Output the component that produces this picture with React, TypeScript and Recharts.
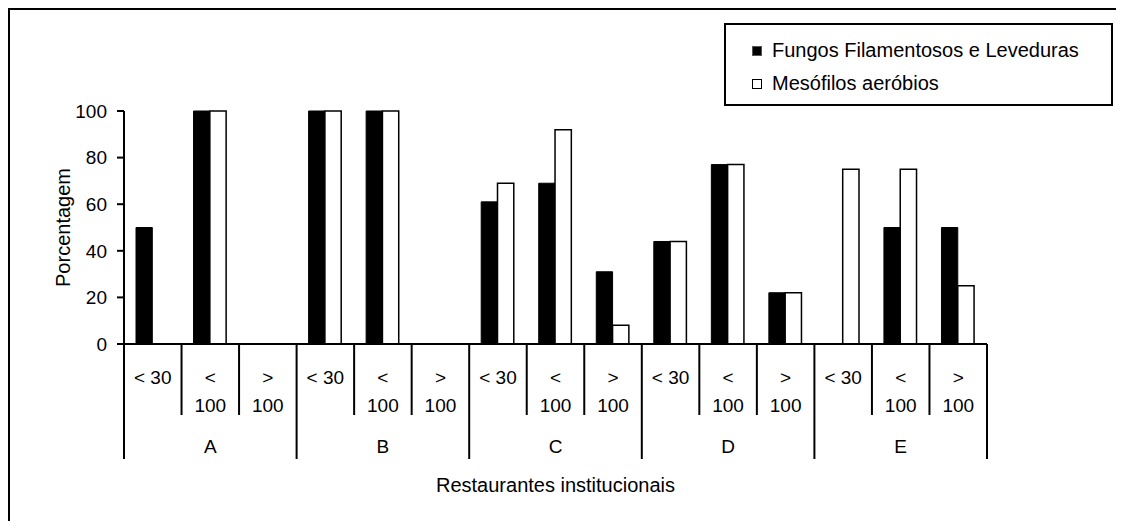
import React from 'react'
import { BarChart, Bar, XAxis, YAxis } from 'recharts'

// restaurant groups and contamination ranges (x axis, two levels)
const groups = ['A', 'B', 'C', 'D', 'E']
const ranges = ['< 30', '< 100', '> 100']

// percentages, one per group/range pair
const fungos = [50, 100, 0, 100, 100, 0, 61, 69, 31, 44, 77, 22, 0, 50, 50]
const mesofilos = [0, 100, 0, 100, 100, 0, 69, 92, 8, 44, 77, 22, 75, 75, 25]

const yTicks = [0, 20, 40, 60, 80, 100]

const data = groups.flatMap((g, gi) =>
  ranges.map((r, ri) => ({
    id: g + r,
    group: g,
    range: r,
    fungos: fungos[gi * 3 + ri],
    mesofilos: mesofilos[gi * 3 + ri],
  }))
)

const FONT = '"Liberation Sans", Arial, Helvetica, sans-serif'
const W = 1109
const H = 511
const LEFT = 114
const RIGHT = 132
const TOP = 101
const BAND = (W - LEFT - RIGHT) / data.length

const CategoryTick = (props: any) => {
  const { x, y, index } = props
  const row = data[index]
  if (!row) return null
  const left = x - BAND / 2
  const right = x + BAND / 2
  const groupStart = index % 3 === 0
  const lines = row.range.length > 4 ? row.range.split(' ') : [row.range]
  return (
    <g>
      <line x1={left} y1={y} x2={left} y2={y + (groupStart ? 115 : 71)} stroke="#000" strokeWidth={2} />
      {index === data.length - 1 && (
        <line x1={right} y1={y} x2={right} y2={y + 115} stroke="#000" strokeWidth={2} />
      )}
      <text x={x} y={y + 40} textAnchor="middle" fontSize={19} fill="#000" fontFamily={FONT}>
        {lines.map((l, k) => (
          <tspan key={k} x={x} dy={k === 0 ? 0 : 28}>
            {l}
          </tspan>
        ))}
      </text>
      {index % 3 === 1 && (
        <text x={x} y={y + 109} textAnchor="middle" fontSize={19} fill="#000" fontFamily={FONT}>
          {row.group}
        </text>
      )}
    </g>
  )
}

const XTitle = (p: any) => {
  const vb = p.viewBox
  return (
    <text x={vb.x + vb.width / 2} y={vb.y + 148} textAnchor="middle" fontSize={20} fill="#000" fontFamily={FONT}>
      Restaurantes institucionais
    </text>
  )
}

const YTitle = (p: any) => {
  const vb = p.viewBox
  const cy = vb.y + vb.height / 2
  return (
    <text x={60} y={cy} transform={`rotate(-90, 60, ${cy})`} textAnchor="middle" fontSize={20} fill="#000" fontFamily={FONT}>
      Porcentagem
    </text>
  )
}

const legendItems = [
  { label: 'Fungos Filamentosos e Leveduras', fill: '#000', border: '#555' },
  { label: 'Mesófilos aeróbios', fill: '#fff', border: '#000' },
]

export default function App() {
  return (
    <div
      style={{
        position: 'relative',
        width: W,
        height: H,
        borderTop: '2px solid #000',
        borderLeft: '2px solid #000',
        borderRight: '2px solid #000',
        fontFamily: FONT,
        background: '#fff',
      }}
    >
      <BarChart
        width={W}
        height={H}
        data={data}
        margin={{ top: TOP, right: RIGHT, bottom: 0, left: 0 }}
        barGap={0}
      >
        <YAxis
          width={LEFT}
          domain={[0, 100]}
          ticks={yTicks}
          interval={0}
          tickSize={7}
          tickMargin={10}
          axisLine={{ stroke: '#000', strokeWidth: 2 }}
          tickLine={{ stroke: '#000', strokeWidth: 2 }}
          tick={{ fill: '#000', fontSize: 19, fontFamily: FONT }}
          label={YTitle}
        />
        <XAxis
          dataKey="id"
          height={H - TOP - 233}
          interval={0}
          tickSize={0}
          tickMargin={0}
          tickLine={false}
          axisLine={{ stroke: '#000', strokeWidth: 2 }}
          tick={<CategoryTick />}
          label={XTitle}
        />
        <Bar dataKey="fungos" fill="#000" stroke="#000" strokeWidth={1} barSize={16.3} isAnimationActive={false} />
        <Bar dataKey="mesofilos" fill="#fff" stroke="#000" strokeWidth={1.5} barSize={16.3} isAnimationActive={false} />
      </BarChart>
      <div
        style={{
          position: 'absolute',
          left: 714,
          top: 13,
          width: 389,
          height: 83,
          boxSizing: 'border-box',
          border: '2px solid #000',
          paddingLeft: 26,
          paddingTop: 9,
          fontSize: 20,
          color: '#000',
        }}
      >
        {legendItems.map((it) => (
          <div key={it.label} style={{ display: 'flex', alignItems: 'center', height: 33 }}>
            <span
              style={{
                display: 'inline-block',
                width: 10,
                height: 10,
                boxSizing: 'border-box',
                background: it.fill,
                border: `1.5px solid ${it.border}`,
                marginRight: 10,
              }}
            />
            <span>{it.label}</span>
          </div>
        ))}
      </div>
    </div>
  )
}
